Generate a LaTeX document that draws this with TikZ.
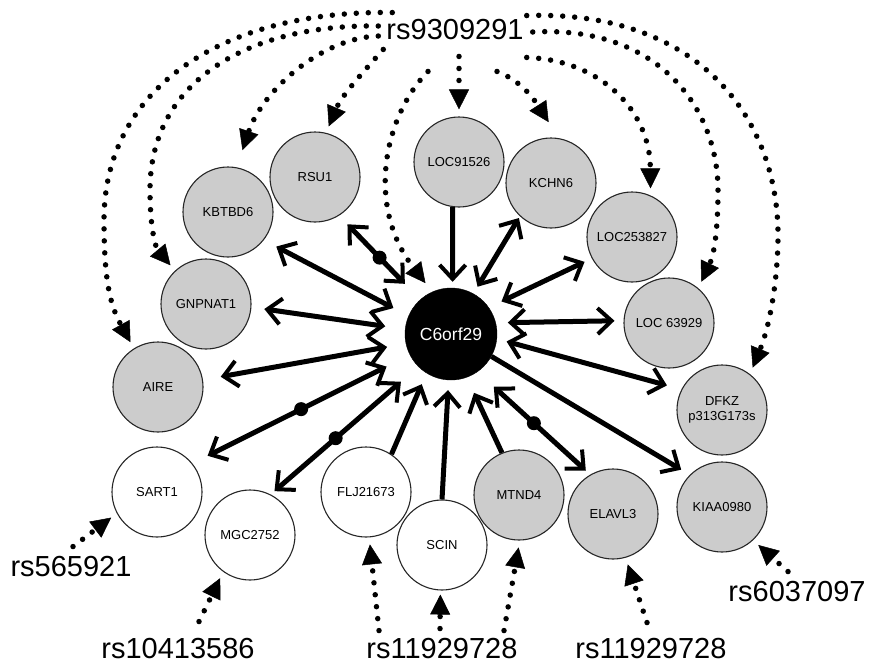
\documentclass[tikz,border=0pt]{standalone}
\usepackage{fontspec}
\setmainfont{Liberation Sans}
\usepackage{xcolor}
\usetikzlibrary{arrows.meta}
\definecolor{genegray}{RGB}{204,204,204}

\begin{document}
\begin{tikzpicture}[x=1pt, y=-1pt,
  >={Straight Barb[length=14pt,width=26pt,line width=4pt]},
  gene/.style={circle, draw=black!85, line width=1.1pt, fill=genegray, minimum size=90pt, inner sep=0pt, align=center, font=\fontsize{13}{15}\selectfont},
  plain/.style={gene, fill=white},
  hub/.style={circle, draw=black, fill=black, minimum size=92pt, inner sep=0pt, text=white, font=\fontsize{17.5}{20}\selectfont},
  snp/.style={inner sep=0pt, font=\fontsize{29}{34}\selectfont},
  link/.style={line width=5pt},
  hinge/.style={circle, fill=black, inner sep=0pt, minimum size=14pt},
  eqtl/.style={line width=5.5pt, line cap=round, dash pattern=on 0pt off 12pt, -{Triangle[length=20pt,width=20pt,line width=0.5pt]}, shorten >=7pt}]
\useasboundingbox (0,0) rectangle (870,665);
% --- hub and interacting genes ---
\node[hub] (C6orf29) at (451,334) {C6orf29};
\node[gene] (RSU1) at (315,177) {RSU1};
\node[gene] (KBTBD6) at (228,212) {KBTBD6};
\node[gene] (GNPNAT1) at (206,304) {GNPNAT1};
\node[gene] (AIRE) at (158,387) {AIRE};
\node[plain] (SART1) at (157,492) {SART1};
\node[plain] (MGC2752) at (250,535) {MGC2752};
\node[plain] (FLJ21673) at (366,492) {FLJ21673};
\node[plain] (SCIN) at (442,545) {SCIN};
\node[gene] (MTND4) at (519,495) {MTND4};
\node[gene] (ELAVL3) at (613,514) {ELAVL3};
\node[gene] (KIAA0980) at (722,507) {KIAA0980};
\node[gene] (DFKZ) at (722,410) {DFKZ\\p313G173s};
\node[gene] (LOC63929) at (669,323) {LOC 63929};
\node[gene] (LOC253827) at (632,237) {LOC253827};
\node[gene] (KCHN6) at (551,183) {KCHN6};
\node[gene] (LOC91526) at (459,162) {LOC91526};
% --- SNP labels ---
\node[snp] (rs9309291) at (455,30) {rs9309291};
\node[snp] (rs565921) at (71,567) {rs565921};
\node[snp] (rs10413586) at (178,649) {rs10413586};
\node[snp] (rs11929728a) at (442,649) {rs11929728};
\node[snp] (rs11929728b) at (651,649) {rs11929728};
\node[snp] (rs6037097) at (797,592) {rs6037097};
% --- links to the hub ---
\draw[<->, link, shorten <=22pt, shorten >=12pt] (C6orf29.132) -- node[hinge]{} (RSU1.302);
\draw[<->, link, shorten <=17pt, shorten >=14pt] (C6orf29.157) -- (KBTBD6.322);
\draw[<->, link, shorten <=20pt, shorten >=13pt] (C6orf29.174) -- (GNPNAT1.356);
\draw[<->, link, shorten <=19pt, shorten >=18pt] (C6orf29.192) -- (AIRE.9);
\draw[<->, link, shorten <=26pt, shorten >=17pt] (C6orf29.207) -- node[hinge]{} (SART1.39);
\draw[<->, link, shorten <=23pt, shorten >=5pt] (C6orf29.225) -- node[hinge, pos=0.56]{} (MGC2752.63);
\draw[->, link, shorten >=12pt] (FLJ21673.56) -- (C6orf29.238);
\draw[->, link, shorten >=10pt] (SCIN.90) -- (C6orf29.267);
\draw[->, link, shorten >=17pt] (MTND4.112) -- (C6orf29.290);
\draw[<->, link, shorten <=22pt, shorten >=6pt] (C6orf29.305) -- node[hinge]{} (ELAVL3.120);
\draw[->, link, shorten >=10pt] (C6orf29.331) -- (KIAA0980.135);
\draw[<->, link, shorten <=10pt, shorten >=15pt] (C6orf29.354) -- (DFKZ.153);
\draw[<->, link, shorten <=12pt, shorten >=9pt] (C6orf29.14) -- (LOC63929.177);
\draw[<->, link, shorten <=14pt, shorten >=8pt] (C6orf29.35) -- (LOC253827.208);
\draw[<->, link, shorten <=8pt, shorten >=2pt] (C6orf29.61) -- (KCHN6.227);
\draw[->, link, shorten >=6pt] (LOC91526.262) -- (C6orf29.88);
% --- rs9309291 fan, left side ---
\draw[eqtl] ([xshift=6pt,yshift=7pt]rs9309291.north west) .. controls (220,10) and (104,90) .. (104,220) .. controls (104,280) and (110,305) .. (AIRE.122);
\draw[eqtl] ([xshift=-8pt,yshift=4pt]rs9309291.west) .. controls (250,24) and (150,80) .. (150,190) .. controls (150,230) and (156,248) .. (GNPNAT1.133);
\draw[eqtl, shorten >=18pt] ([xshift=-8pt,yshift=-6pt]rs9309291.west) .. controls (320,38) and (262,92) .. (KBTBD6.79);
\draw[eqtl] ([xshift=-3pt,yshift=-9pt]rs9309291.south west) .. controls (365,70) and (342,95) .. (RSU1.76);
\draw[eqtl, shorten >=11pt] ([xshift=-27pt,yshift=-31pt]rs9309291.south) .. controls (385,115) and (365,205) .. (C6orf29.114);
\draw[eqtl] ([xshift=4pt,yshift=-16pt]rs9309291.south) -- (LOC91526.north);
% --- rs9309291 fan, right side ---
\draw[eqtl, shorten >=19pt] ([xshift=42pt,yshift=-31pt]rs9309291.south) .. controls (514,78) and (528,90) .. (KCHN6.80);
\draw[eqtl] ([xshift=3pt,yshift=-17pt]rs9309291.south east) .. controls (600,60) and (650,110) .. (LOC253827.66);
\draw[eqtl] ([xshift=9pt,yshift=-2pt]rs9309291.east) .. controls (660,25) and (718,110) .. (718,190) .. controls (718,230) and (714,255) .. (LOC63929.50);
\draw[eqtl] ([xshift=3pt,yshift=4pt]rs9309291.north east) .. controls (700,10) and (780,120) .. (778,240) .. controls (777,290) and (768,330) .. (DFKZ.52);
% --- lower SNPs ---
\draw[eqtl] ([xshift=2pt,yshift=10pt]rs565921.north) -- (SART1.208);
\draw[eqtl] ([xshift=21pt,yshift=17pt]rs10413586.north) -- (MGC2752.234);
\draw[eqtl] ([xshift=-63pt,yshift=8pt]rs11929728a.north) -- (FLJ21673.274);
\draw[eqtl, shorten >=4pt] ([xshift=-2pt,yshift=10pt]rs11929728a.north) -- (SCIN.268);
\draw[eqtl] ([xshift=62pt,yshift=8pt]rs11929728a.north) -- (MTND4.271);
\draw[eqtl] ([xshift=-4pt,yshift=16pt]rs11929728b.north) -- (ELAVL3.286);
\draw[eqtl] ([xshift=-9pt,yshift=10pt]rs6037097.north) -- (KIAA0980.313);
\end{tikzpicture}
\end{document}
